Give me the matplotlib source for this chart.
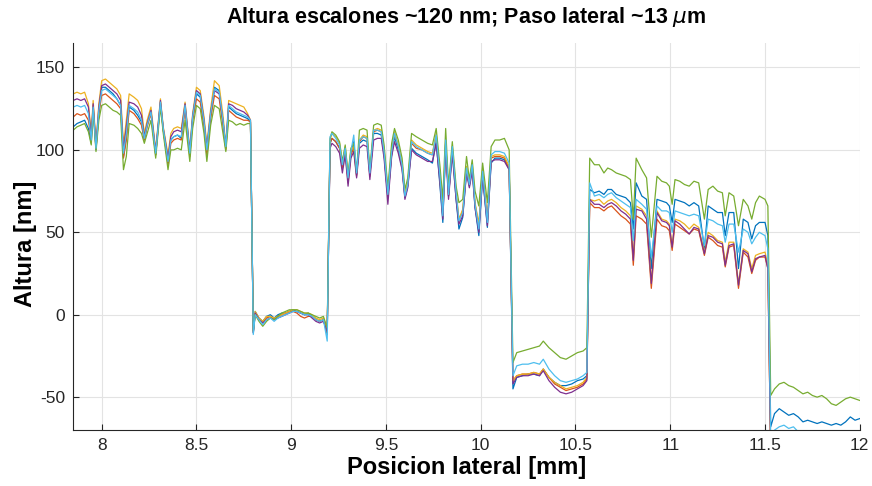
import matplotlib
matplotlib.use('Agg')
import matplotlib.pyplot as plt

plt.rcParams['font.family'] = ['Liberation Sans', 'DejaVu Sans']
plt.rcParams['axes.unicode_minus'] = False

# posicion lateral [mm] (comun a todos los perfiles)
x = [
    # escalon 1
    7.85, 7.87, 7.89, 7.91, 7.93, 7.945, 7.955, 7.97, 7.985, 8.00,
    8.02, 8.04, 8.06, 8.08, 8.10, 8.115, 8.13, 8.145, 8.17, 8.19,
    8.21, 8.225, 8.24, 8.26, 8.285, 8.31, 8.325, 8.35, 8.365, 8.38,
    8.40, 8.42, 8.44, 8.465, 8.48, 8.50, 8.52, 8.54, 8.555, 8.575,
    8.595, 8.62, 8.64, 8.655, 8.67, 8.69, 8.71, 8.73, 8.75, 8.77, 8.785,
    # escalon 2
    8.80, 8.81, 8.83, 8.85, 8.87, 8.89, 8.91, 8.93, 8.95, 8.97,
    8.99, 9.01, 9.03, 9.05, 9.07, 9.09, 9.11, 9.13, 9.15, 9.17, 9.19,
    # escalon 3
    9.205, 9.215, 9.235, 9.255, 9.27, 9.285, 9.30, 9.315, 9.33, 9.345,
    9.36, 9.38, 9.40, 9.415, 9.435, 9.455, 9.475, 9.49, 9.51, 9.53,
    9.545, 9.565, 9.585, 9.60, 9.615, 9.635, 9.66, 9.69, 9.72, 9.745,
    9.765, 9.785, 9.80, 9.815, 9.83, 9.85, 9.87, 9.885, 9.905, 9.925,
    9.94, 9.955, 9.97, 9.99, 10.01, 10.035, 10.055, 10.075, 10.10, 10.125, 10.15,
    # escalon 4
    10.17, 10.19, 10.22, 10.25, 10.28, 10.31, 10.33, 10.36, 10.39, 10.42,
    10.45, 10.48, 10.51, 10.54, 10.56,
    # escalon 5
    10.575, 10.60, 10.625, 10.65, 10.67, 10.69, 10.715, 10.74, 10.765, 10.79,
    10.805, 10.82, 10.85, 10.875, 10.90, 10.93, 10.955, 10.98, 10.995, 11.01,
    11.025, 11.05, 11.075, 11.10, 11.125, 11.15, 11.18, 11.20, 11.225, 11.25,
    11.275, 11.29, 11.31, 11.335, 11.36, 11.385, 11.41, 11.43, 11.45, 11.47,
    11.50, 11.515,
    # escalon 6
    11.53, 11.55, 11.575, 11.60, 11.625, 11.65, 11.675, 11.70, 11.725, 11.75,
    11.775, 11.80, 11.825, 11.85, 11.875, 11.90, 11.925, 11.95, 11.975, 12.0,
]

perfil_azul = [
    114, 116, 117, 118, 113, 104, 125, 100, 122, 138,
    138, 136, 134, 131, 127, 96, 108, 126, 124, 121,
    117, 106, 115, 123, 97, 129, 112, 92, 106, 108,
    109, 107, 126, 97, 119, 134, 132, 116, 99, 121,
    138, 136, 117, 101, 126, 124, 122, 121, 120, 119, 117,
    -11, 2, -2, -4, -1, 0, -2, 0, 1, 1,
    2, 3, 2, 1, 0, 1, -1, -3, -4, -3, -12,
    104, 107, 105, 101, 89, 100, 82, 98, 105, 85,
    104, 106, 105, 85, 110, 110, 109, 97, 71, 97,
    108, 100, 89, 71, 78, 101, 98, 96, 94, 92,
    105, 78, 56, 105, 72, 99, 70, 52, 59, 87,
    78, 89, 65, 48, 84, 53, 92, 95, 95, 94, 88,
    -45, -38, -37, -36, -36, -37, -33, -38, -41, -43,
    -43, -42, -40, -39, -37,
    76, 74, 75, 73, 76, 76, 73, 72, 71, 68,
    52, 80, 72, 70, 28, 70, 69, 68, 66, 56,
    70, 69, 68, 66, 68, 66, 40, 66, 64, 62,
    62, 48, 62, 62, 28, 58, 56, 46, 54, 56,
    56, 48,
    -68, -60, -57, -59, -61, -60, -62, -65, -64, -65,
    -66, -65, -66, -67, -66, -67, -65, -62, -64, -63,
]

perfil_naranja = [
    120, 122, 121, 122, 118, 106, 127, 101, 122, 133,
    134, 132, 130, 128, 125, 95, 106, 124, 122, 119,
    115, 106, 114, 122, 97, 128, 112, 91, 104, 106,
    107, 106, 125, 96, 118, 131, 129, 114, 97, 119,
    133, 131, 115, 100, 124, 122, 120, 119, 118, 118, 117,
    -10, 0, -3, -5, -2, -1, -3, -1, 0, 1,
    2, 2, 1, -1, -2, -1, -1, -3, -4, -3, -11,
    104, 107, 105, 101, 89, 99, 80, 97, 101, 84,
    105, 108, 107, 84, 111, 112, 111, 98, 72, 98,
    110, 102, 90, 72, 79, 104, 101, 100, 98, 97,
    109, 83, 60, 104, 72, 101, 73, 57, 63, 88,
    79, 90, 67, 54, 86, 57, 95, 96, 96, 95, 89,
    -40, -37, -36, -36, -35, -36, -33, -38, -42, -44,
    -46, -45, -44, -42, -39,
    68, 65, 65, 63, 65, 66, 63, 60, 58, 55,
    30, 60, 58, 55, 16, 58, 54, 53, 51, 39,
    55, 53, 51, 49, 52, 51, 36, 47, 45, 42,
    41, 29, 41, 42, 16, 38, 35, 25, 33, 35,
    35, 28,
    -85, -86, -85, -86, -87, -86, -87, -88, -87, -88,
    -88, -89, -88, -89, -90, -89, -89, -88, -89, -89,
]

perfil_amarillo = [
    134, 135, 134, 135, 128, 110, 130, 103, 128, 142,
    143, 141, 139, 137, 133, 103, 118, 134, 132, 130,
    125, 110, 118, 126, 100, 131, 114, 97, 110, 113,
    114, 113, 129, 100, 122, 138, 136, 120, 103, 125,
    142, 139, 121, 103, 130, 129, 128, 127, 126, 122, 118,
    -10, 2, -2, -4, -1, -1, -2, -1, 0, 1,
    2, 3, 3, 2, 1, 1, 0, -2, -3, -2, -9,
    106, 110, 108, 104, 92, 102, 84, 100, 102, 86,
    106, 109, 108, 86, 112, 113, 112, 100, 74, 100,
    111, 103, 92, 73, 80, 106, 103, 101, 99, 98,
    110, 85, 62, 105, 74, 102, 75, 58, 64, 90,
    80, 92, 68, 55, 88, 58, 96, 97, 97, 96, 90,
    -40, -37, -36, -36, -35, -36, -33, -38, -41, -43,
    -45, -44, -43, -41, -38,
    70, 69, 70, 67, 69, 70, 68, 65, 63, 60,
    35, 66, 64, 60, 20, 63, 58, 57, 55, 42,
    58, 57, 55, 52, 55, 53, 38, 50, 48, 45,
    44, 32, 44, 44, 19, 40, 38, 28, 36, 37,
    38, 30,
    -85, -86, -85, -86, -87, -86, -87, -88, -87, -88,
    -88, -89, -88, -89, -90, -89, -89, -88, -89, -89,
]

perfil_morado = [
    130, 131, 130, 131, 126, 108, 128, 102, 126, 139,
    140, 138, 136, 134, 130, 100, 114, 129, 128, 126,
    121, 108, 116, 124, 99, 130, 113, 95, 108, 111,
    112, 111, 128, 99, 121, 136, 134, 118, 101, 123,
    136, 134, 118, 102, 128, 127, 125, 124, 123, 121, 118,
    -11, 1, -3, -5, -3, -2, -3, -2, -1, 0,
    1, 2, 2, 1, 0, 0, -2, -4, -5, -4, -10,
    101, 104, 102, 98, 86, 97, 78, 95, 99, 83,
    101, 103, 102, 82, 106, 107, 107, 95, 67, 96,
    105, 98, 88, 70, 77, 100, 97, 95, 93, 93,
    104, 80, 58, 100, 70, 98, 70, 55, 60, 86,
    77, 87, 65, 50, 84, 54, 93, 94, 94, 93, 88,
    -42, -38, -37, -37, -36, -37, -34, -40, -44, -47,
    -48, -47, -45, -43, -40,
    70, 67, 67, 65, 67, 68, 66, 63, 61, 58,
    33, 64, 63, 58, 19, 62, 57, 56, 54, 41,
    57, 55, 52, 49, 53, 52, 37, 48, 47, 44,
    43, 30, 42, 43, 18, 39, 37, 26, 34, 35,
    36, 28,
    -85, -86, -85, -86, -87, -86, -87, -88, -87, -88,
    -88, -89, -88, -89, -90, -89, -89, -88, -89, -89,
]

perfil_verde = [
    112, 114, 115, 116, 111, 103, 124, 99, 118, 127,
    128, 126, 124, 123, 121, 88, 96, 116, 115, 113,
    110, 104, 110, 118, 95, 126, 110, 88, 100, 100,
    101, 100, 118, 93, 113, 127, 125, 110, 93, 115,
    127, 125, 110, 99, 118, 117, 115, 116, 115, 116, 116,
    -10, 0, -4, -7, -4, -2, -3, -1, 1, 2,
    3, 3, 3, 2, 1, 1, 0, -1, -2, -1, -8,
    107, 111, 109, 105, 93, 103, 85, 101, 104, 87,
    112, 113, 112, 88, 115, 116, 115, 103, 77, 104,
    113, 106, 95, 76, 83, 110, 108, 106, 104, 103,
    113, 90, 70, 113, 78, 105, 78, 68, 70, 96,
    82, 94, 75, 66, 92, 68, 102, 106, 106, 107, 100,
    -29, -23, -22, -21, -20, -19, -16, -20, -23, -26,
    -27, -25, -23, -22, -20,
    95, 91, 91, 86, 89, 88, 86, 85, 84, 82,
    58, 95, 88, 83, 47, 84, 81, 80, 78, 67,
    82, 81, 79, 78, 81, 80, 58, 76, 78, 75,
    74, 60, 74, 72, 54, 70, 66, 58, 68, 72,
    70, 66,
    -49, -45, -42, -41, -43, -44, -46, -48, -47, -49,
    -50, -49, -51, -54, -55, -53, -51, -50, -51, -52,
]

perfil_celeste = [
    126, 127, 126, 127, 122, 106, 126, 101, 124, 136,
    137, 135, 133, 131, 127, 98, 110, 127, 125, 123,
    118, 107, 115, 123, 98, 129, 113, 93, 106, 108,
    109, 108, 127, 98, 120, 135, 133, 117, 100, 122,
    137, 135, 118, 102, 127, 125, 123, 122, 121, 120, 118,
    -12, 0, -3, -6, -3, -2, -4, -2, -1, 0,
    1, 2, 2, 1, 0, 0, -1, -3, -4, -3, -16,
    108, 110, 107, 103, 91, 101, 83, 99, 109, 86,
    106, 108, 107, 86, 112, 112, 111, 99, 73, 99,
    110, 102, 91, 72, 79, 105, 102, 100, 98, 97,
    109, 84, 60, 106, 73, 102, 74, 57, 62, 89,
    79, 91, 67, 52, 87, 56, 97, 99, 99, 98, 92,
    -37, -31, -30, -30, -29, -30, -27, -33, -37, -40,
    -41, -40, -39, -37, -35,
    80, 72, 73, 71, 73, 74, 71, 69, 67, 65,
    45, 70, 67, 64, 35, 66, 63, 63, 62, 50,
    63, 62, 61, 60, 61, 60, 42, 58, 57, 55,
    54, 44, 55, 55, 38, 52, 50, 43, 47, 50,
    48, 40,
    -75, -70, -68, -67, -69, -68, -71, -73, -72, -73,
    -72, -73, -74, -74, -74, -73, -73, -72, -73, -73,
]

perfiles = [perfil_azul, perfil_naranja, perfil_amarillo, perfil_morado,
            perfil_verde, perfil_celeste]
colores = ['#0072BD', '#D95319', '#EDB120', '#7E2F8E', '#77AC30', '#4DBEEE']

fig = plt.figure(figsize=(8.72, 4.86), dpi=100)
ax = fig.add_axes([0.084, 0.115, 0.902, 0.797])

for y, c in zip(perfiles, colores):
    ax.plot(x, y, color=c, lw=0.9)

ax.set_xlim(7.85, 12)
ax.set_ylim(-70, 165)
ax.set_xticks([8, 8.5, 9, 9.5, 10, 10.5, 11, 11.5, 12])
ax.set_xticklabels(['8', '8.5', '9', '9.5', '10', '10.5', '11', '11.5', '12'])
ax.set_yticks([-50, 0, 50, 100, 150])
ax.grid(True, color='#e3e3e3', lw=0.8)
ax.set_axisbelow(True)
for s in ['top', 'right']:
    ax.spines[s].set_visible(False)
for s in ['left', 'bottom']:
    ax.spines[s].set_color('#262626')
    ax.spines[s].set_linewidth(0.8)
ax.tick_params(direction='in', length=4, labelsize=12.5, colors='#262626', pad=6)

ax.set_title('Altura escalones ~120 nm; Paso lateral ~13 $\\mu$m',
             fontsize=15.5, fontweight='bold', pad=14)
ax.set_xlabel('Posicion lateral [mm]', fontsize=17, fontweight='bold', labelpad=2)
ax.set_ylabel('Altura [nm]', fontsize=17, fontweight='bold')
ax.yaxis.set_label_coords(-0.046, 0.48)

fig.savefig('out.png', dpi=100)
